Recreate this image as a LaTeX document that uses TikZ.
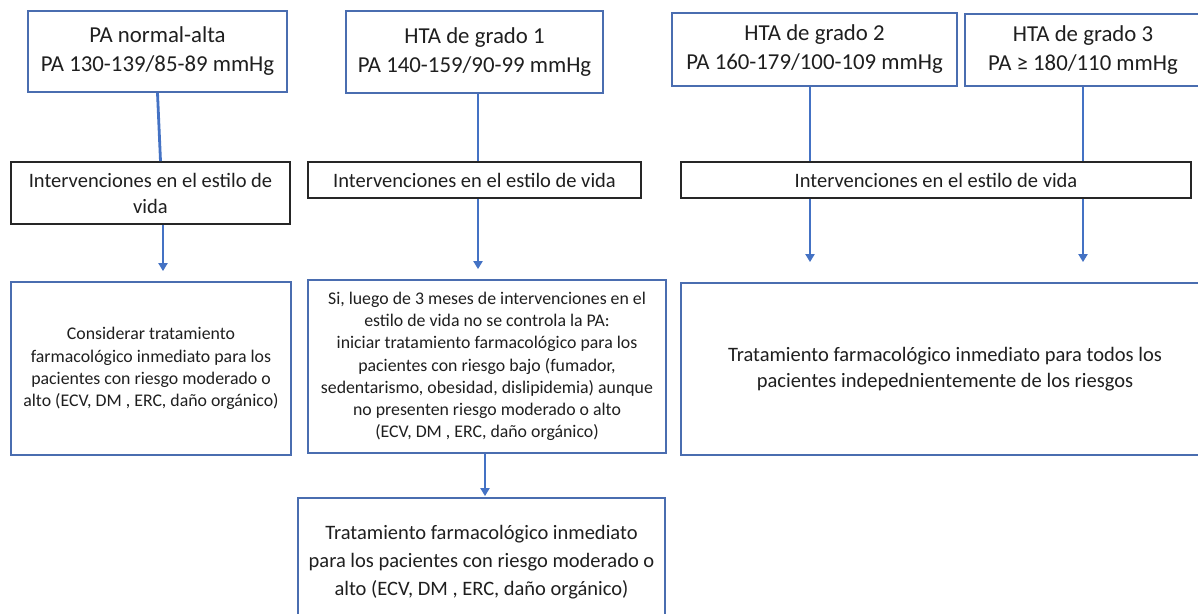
\documentclass[tikz,border=0pt]{standalone}
\usepackage{fontspec}
\setmainfont{Carlito}
\usetikzlibrary{arrows.meta}
\definecolor{boxblue}{HTML}{4A6DB0}
\definecolor{arrblue}{HTML}{4472C4}
\definecolor{txt}{HTML}{1F1F1F}
\begin{document}
\begin{tikzpicture}[x=1pt,y=-1pt,
  bluebox/.style={draw=boxblue, line width=1.8pt, inner sep=0pt, align=center, text=txt},
  blackbox/.style={draw=black!85, line width=1.8pt, inner sep=0pt, align=center, text=txt},
  conn/.style={draw=arrblue, line width=2.8pt},
  arr/.style={draw=arrblue, line width=2.8pt, -{Triangle[length=8pt,width=9pt]}},
  titlefont/.style={font=\fontsize{22.8}{29}\selectfont},
  midfont/.style={font=\fontsize{20.5}{26}\selectfont},
  smallfont/.style={font=\fontsize{17.8}{22.2}\selectfont}
]
\useasboundingbox (0,0) rectangle (1198,613);
\clip (0,0) rectangle (1198,613);
\fill[white] (0,0) rectangle (1198,613);

% top row
\node[bluebox, titlefont, minimum width=259pt, minimum height=81pt] (b1) at (157.5,51.5) {PA normal-alta\\PA 130-139/85-89 mmHg};
\node[bluebox, titlefont, minimum width=257pt, minimum height=82pt] (b2) at (474.5,52) {HTA de grado 1\\PA 140-159/90-99 mmHg};
\node[bluebox, titlefont, minimum width=285pt, minimum height=73pt] (b3) at (814.5,49.5) {HTA de grado 2\\PA 160-179/100-109 mmHg};
\node[bluebox, titlefont, minimum width=236pt, minimum height=72pt] (b4) at (1083,50) {HTA de grado 3\\PA ≥ 180/110 mmHg};

% lifestyle row
\node[blackbox, midfont, minimum width=279pt, minimum height=62pt] (l1) at (150.5,193) {Intervenciones en el estilo de\\vida};
\node[blackbox, midfont, minimum width=333pt, minimum height=36pt] (l2) at (474.5,180) {Intervenciones en el estilo de vida};
\node[blackbox, midfont, minimum width=510pt, minimum height=36pt] (l3) at (936,180) {Intervenciones en el estilo de vida};

% treatment row
\node[bluebox, smallfont, minimum width=280pt, minimum height=173pt] (c1) at (151,368.5) {Considerar tratamiento\\farmacológico inmediato para los\\pacientes con riesgo moderado o\\alto (ECV, DM , ERC, daño orgánico)};
\node[bluebox, smallfont, minimum width=358pt, minimum height=173pt] (c2) at (487,366.5) {Si, luego de 3 meses de intervenciones en el\\estilo de vida no se controla la PA:\\iniciar tratamiento farmacológico para los\\pacientes con riesgo bajo (fumador,\\sedentarismo, obesidad, dislipidemia) aunque\\no presenten riesgo moderado o alto\\(ECV, DM , ERC, daño orgánico)};
\node[bluebox, midfont, minimum width=528pt, minimum height=172pt] (c3) at (945,369) {Tratamiento farmacológico inmediato para todos los\\pacientes indepednientemente de los riesgos};

% final
\node[bluebox, font=\fontsize{20.5}{28}\selectfont, minimum width=367pt, minimum height=128pt] (d2) at (481.5,562) {Tratamiento farmacológico inmediato\\para los pacientes con riesgo moderado o\\alto (ECV, DM , ERC, daño orgánico)};

% connectors
\draw[conn] (b1.south) -- ([xshift=10pt]l1.north);
\draw[arr, shorten >=10pt] ([xshift=12.5pt]l1.south) -- ([xshift=12pt]c1.north);
\draw[conn] ([xshift=3.5pt]b2.south) -- ([xshift=3.5pt]l2.north);
\draw[arr, shorten >=10pt] ([xshift=3.5pt]l2.south) -- ([xshift=-9pt]c2.north);
\draw[arr, shorten >=1pt] ([xshift=-2pt]c2.south) -- ([xshift=3.5pt]d2.north);
\draw[conn] ([xshift=-4.5pt]b3.south) -- ([xshift=-126pt]l3.north);
\draw[arr, shorten >=20pt] ([xshift=-126pt]l3.south) -- ([xshift=-135pt]c3.north);
\draw[conn] (b4.south) -- ([xshift=147pt]l3.north);
\draw[arr, shorten >=20pt] ([xshift=147pt]l3.south) -- ([xshift=138pt]c3.north);
\end{tikzpicture}
\end{document}
